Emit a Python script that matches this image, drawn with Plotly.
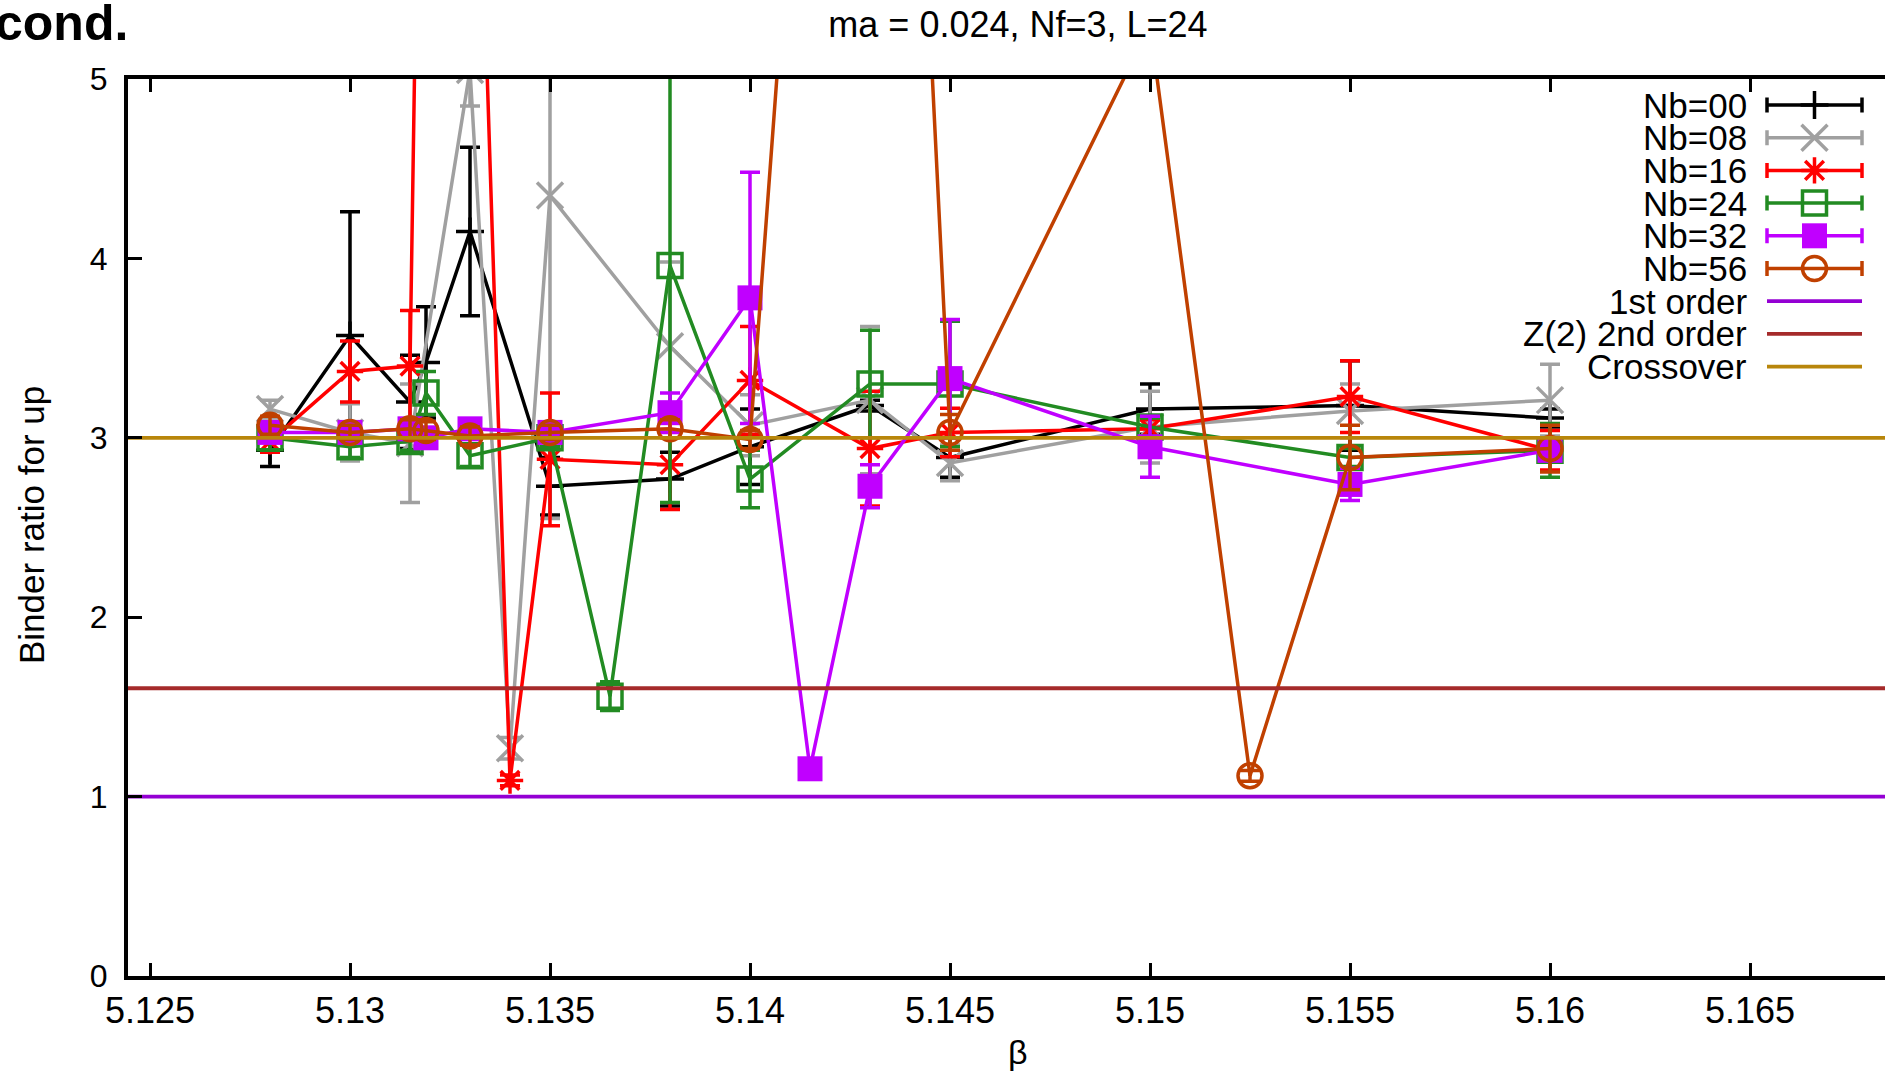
import plotly.graph_objects as go

# ---------------------------------------------------------------------------
# Binder ratio of the up-quark condensate vs. beta, ma = 0.024, Nf=3, L=24
# ---------------------------------------------------------------------------

# Nb = 00
beta_nb00 = [5.128, 5.130, 5.1315, 5.1319, 5.133, 5.135, 5.138, 5.140, 5.143, 5.145, 5.150, 5.155, 5.160]
binder_nb00 = [2.93, 3.57, 3.20, 3.42, 4.15, 2.73, 2.77, 2.95, 3.18, 2.89, 3.16, 3.18, 3.11]
err_nb00 = [0.09, 0.69, 0.26, 0.31, 0.47, 0.16, 0.15, 0.21, 0.03, 0.11, 0.14, 0.25, 0.05]

# Nb = 08
beta_nb08 = [5.128, 5.130, 5.1315, 5.133, 5.134, 5.135, 5.138, 5.140, 5.143, 5.145, 5.150, 5.155, 5.160]
binder_nb08 = [3.16, 3.03, 2.97, 5.05, 1.27, 4.35, 3.51, 3.07, 3.21, 2.86, 3.06, 3.15, 3.21]
err_nb08 = [0.05, 0.16, 0.33, 0.20, 0.06, 1.80, 0.47, 0.17, 0.41, 0.10, 0.20, 0.15, 0.20]

# Nb = 16
beta_nb16 = [5.128, 5.130, 5.1315, 5.1322, 5.134, 5.135, 5.138, 5.140, 5.143, 5.145, 5.150, 5.155, 5.160]
binder_nb16 = [2.98, 3.37, 3.40, 13.5, 1.09, 2.88, 2.85, 3.32, 2.94, 3.03, 3.05, 3.23, 2.93]
err_nb16 = [0.06, 0.17, 0.31, 0.0, 0.03, 0.37, 0.25, 0.30, 0.32, 0.135, 0.05, 0.20, 0.11]

# Nb = 24
beta_nb24 = [5.128, 5.130, 5.1315, 5.1319, 5.133, 5.135, 5.1365, 5.138, 5.140, 5.143, 5.145, 5.150, 5.155, 5.160]
binder_nb24 = [3.00, 2.95, 2.98, 3.25, 2.90, 3.00, 1.56, 3.96, 2.77, 3.30, 3.30, 3.06, 2.89, 2.93]
err_nb24 = [0.07, 0.06, 0.05, 0.12, 0.06, 0.05, 0.08, 1.32, 0.16, 0.30, 0.35, 0.05, 0.05, 0.15]

# Nb = 32
beta_nb32 = [5.128, 5.130, 5.1315, 5.1319, 5.133, 5.135, 5.138, 5.140, 5.1415, 5.143, 5.145, 5.150, 5.155, 5.160]
binder_nb32 = [3.03, 3.03, 3.05, 3.00, 3.05, 3.03, 3.14, 3.78, 1.155, 2.73, 3.33, 2.95, 2.74, 2.93]
err_nb32 = [0.05, 0.05, 0.05, 0.05, 0.05, 0.05, 0.11, 0.70, 0.03, 0.12, 0.33, 0.17, 0.09, 0.05]

# Nb = 56
beta_nb56 = [5.128, 5.130, 5.1315, 5.1319, 5.133, 5.135, 5.138, 5.140, 5.143, 5.145, 5.150, 5.1525, 5.155, 5.160]
binder_nb56 = [3.07, 3.03, 3.05, 3.04, 3.01, 3.03, 3.05, 2.99, 12.0, 3.03, 5.3, 1.116, 2.89, 2.94]
err_nb56 = [0.05, 0.04, 0.05, 0.05, 0.05, 0.04, 0.05, 0.05, 0.0, 0.10, 0.0, 0.03, 0.18, 0.13]

# Reference values of the Binder ratio
ref_names = ["1st order", "Z(2) 2nd order", "Crossover"]
ref_values = [1.0, 1.604, 3.0]
ref_colors = ["#9400d3", "#a52a2a", "#b8860b"]

# Axis ticks
x_tickvals = [5.125, 5.13, 5.135, 5.14, 5.145, 5.15, 5.155, 5.16, 5.165]
x_ticktext = ["5.125", "5.13", "5.135", "5.14", "5.145", "5.15", "5.155", "5.16", "5.165"]
y_tickvals = [0, 1, 2, 3, 4, 5]

# ---------------------------------------------------------------------------
FONT = "Liberation Sans"
W, H = 1885, 1074
ML, MR, MT, MB = 128, 0, 79, 98
X_RANGE = [5.12445, 5.168375]
Y_RANGE = [0, 5]
LINE_W = 3.5

series = [
    dict(name="Nb=00", x=beta_nb00, y=binder_nb00, e=err_nb00, color="#000000",
         symbol="cross-thin", size=20, filled=False),
    dict(name="Nb=08", x=beta_nb08, y=binder_nb08, e=err_nb08, color="#a0a0a0",
         symbol="x-thin", size=26, filled=False),
    dict(name="Nb=16", x=beta_nb16, y=binder_nb16, e=err_nb16, color="#ff0000",
         symbol="asterisk", size=22, filled=False),
    dict(name="Nb=24", x=beta_nb24, y=binder_nb24, e=err_nb24, color="#228b22",
         symbol="square-open", size=24, filled=False),
    dict(name="Nb=32", x=beta_nb32, y=binder_nb32, e=err_nb32, color="#c000ff",
         symbol="square", size=25, filled=True),
    dict(name="Nb=56", x=beta_nb56, y=binder_nb56, e=err_nb56, color="#c04000",
         symbol="circle-open", size=24, filled=False),
]


def marker_style(s):
    if s["filled"]:
        return dict(symbol=s["symbol"], size=s["size"], color=s["color"],
                    line=dict(width=0))
    return dict(symbol=s["symbol"], size=s["size"], color=s["color"],
                line=dict(width=LINE_W, color=s["color"]))


fig = go.Figure()

# data series with error bars
for s in series:
    fig.add_trace(go.Scatter(
        x=s["x"], y=s["y"], mode="lines+markers", name=s["name"],
        line=dict(color=s["color"], width=LINE_W),
        marker=marker_style(s),
        error_y=dict(type="data", array=s["e"], visible=True,
                     color=s["color"], thickness=LINE_W, width=10),
        showlegend=False,
    ))

# horizontal reference levels
for name, val, col in zip(ref_names, ref_values, ref_colors):
    fig.add_trace(go.Scatter(
        x=X_RANGE, y=[val, val], mode="lines", name=name,
        line=dict(color=col, width=3.8), showlegend=False,
    ))

# ---------------------------------------------------------------------------
# Key (gnuplot style: right-aligned text, sample on the right), drawn on an
# overlay axis pair measured in page pixels
LEG_TEXT_X = 1749
LEG_X0, LEG_X1 = 1767, 1862
LEG_ROW0, LEG_STEP = 105, 32.7
LEG_FONT = 35
leg_cx = (LEG_X0 + LEG_X1) / 2
leg_half = (LEG_X1 - LEG_X0) / 2

annotations = []
row = 0
for s in series:
    ry = LEG_ROW0 + row * LEG_STEP
    fig.add_trace(go.Scatter(
        x=[leg_cx], y=[ry], xaxis="x2", yaxis="y2", mode="markers",
        marker=marker_style(s), cliponaxis=False, showlegend=False,
        error_x=dict(type="data", array=[leg_half], visible=True,
                     color=s["color"], thickness=LINE_W, width=7.5),
    ))
    annotations.append(dict(x=LEG_TEXT_X, y=ry, xref="x2", yref="y2",
                            text=s["name"], showarrow=False, xanchor="right",
                            yanchor="middle", font=dict(family=FONT, size=LEG_FONT, color="black")))
    row += 1
for name, col in zip(ref_names, ref_colors):
    ry = LEG_ROW0 + row * LEG_STEP
    fig.add_trace(go.Scatter(
        x=[LEG_X0, LEG_X1], y=[ry, ry], xaxis="x2", yaxis="y2", mode="lines",
        line=dict(color=col, width=3.8), cliponaxis=False, showlegend=False,
    ))
    annotations.append(dict(x=LEG_TEXT_X, y=ry, xref="x2", yref="y2",
                            text=name, showarrow=False, xanchor="right",
                            yanchor="middle", font=dict(family=FONT, size=LEG_FONT, color="black")))
    row += 1

plot_w = W - ML - MR
plot_h = H - MT - MB

# axis titles
annotations.append(dict(text="Binder ratio for up", textangle=-90, showarrow=False,
                        xref="paper", yref="paper", x=(31 - ML) / plot_w, y=(H - MB - 525) / plot_h,
                        xanchor="center", yanchor="middle",
                        font=dict(family=FONT, size=35, color="black")))
annotations.append(dict(text="β", showarrow=False, xref="paper", yref="paper",
                        x=(1018 - ML) / plot_w, y=(H - MB - 1052) / plot_h,
                        xanchor="center", yanchor="middle",
                        font=dict(family=FONT, size=34, color="black")))
# slide heading fragment at top left
annotations.append(dict(text="<b>cond.</b>", showarrow=False, xref="paper", yref="paper",
                        x=(-7 - ML) / plot_w, y=1 + (MT - 23.0) / plot_h,
                        xanchor="left", yanchor="middle",
                        font=dict(family=FONT, size=50, color="black")))

fig.update_layout(
    width=W, height=H,
    margin=dict(l=ML, r=MR, t=MT, b=MB, pad=0),
    paper_bgcolor="white", plot_bgcolor="white",
    font=dict(family=FONT, color="black"),
    title=dict(text="ma = 0.024, Nf=3, L=24", x=1018 / W, xref="container", xanchor="center",
               y=1 - 24.5 / H, yref="container", yanchor="middle",
               font=dict(family=FONT, size=36, color="black")),
    xaxis=dict(range=X_RANGE, showgrid=False, zeroline=False,
               showline=True, linecolor="black", linewidth=4, mirror="ticks",
               ticks="inside", ticklen=13, tickwidth=3, tickcolor="black",
               tickvals=x_tickvals, ticktext=x_ticktext,
               tickfont=dict(family=FONT, size=36, color="black")),
    yaxis=dict(range=Y_RANGE, showgrid=False, zeroline=False,
               showline=True, linecolor="black", linewidth=4, mirror=False,
               ticks="inside", ticklen=14, tickwidth=3, tickcolor="black",
               tickvals=y_tickvals, ticklabelstandoff=10,
               tickfont=dict(family=FONT, size=32, color="black")),
    xaxis2=dict(overlaying="x", anchor="y2", range=[ML, W - MR], visible=False,
                showgrid=False, zeroline=False),
    yaxis2=dict(overlaying="y", anchor="x2", range=[H - MB, MT], visible=False,
                showgrid=False, zeroline=False),
    annotations=annotations,
    showlegend=False,
)

fig.write_html("out.html")
